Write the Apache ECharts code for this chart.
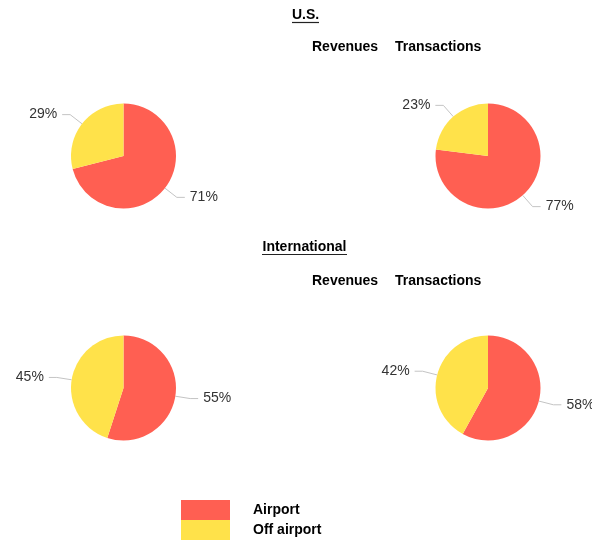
<!DOCTYPE html>
<html>
<head>
<meta charset="utf-8">
<script src="https://cdn.jsdelivr.net/npm/echarts@6/dist/echarts.min.js"></script>
<style>
  html, body { margin: 0; padding: 0; background: #fff; }
  #chart { width: 592px; height: 543px; }
</style>
</head>
<body>
<div id="chart"></div>
<script>
  // data
  const categories = ['Airport', 'Off airport'];
  const usRevenues = [71, 29];
  const usTransactions = [77, 23];
  const intlRevenues = [55, 45];
  const intlTransactions = [58, 42];

  const colors = ['#ff5f52', '#ffe24a'];
  const font = '"Liberation Sans", Arial, sans-serif';

  let chart = echarts.init(document.getElementById('chart'));

  function toData(values) {
    return values.map((v, i) => ({ name: categories[i], value: v }));
  }

  function pieSeries(values, center) {
    return {
      type: 'pie',
      center: center,
      radius: 52.5,
      startAngle: 90,
      clockwise: true,
      avoidLabelOverlap: false,
      animation: false,
      label: {
        show: true,
        formatter: '{c}%',
        color: '#333',
        fontSize: 14,
        fontFamily: font,
        distanceToLabelLine: 5
      },
      labelLine: {
        show: true,
        length: 15,
        length2: 8,
        smooth: false,
        lineStyle: { color: '#c4c4c4', width: 1 }
      },
      emphasis: { disabled: true },
      data: toData(values)
    };
  }

  // titles with underline
  function heading(text, cx, cy, width) {
    return [
      {
        type: 'text',
        x: cx, y: cy,
        style: {
          text: text, fill: '#000', font: 'bold 14px ' + font,
          textAlign: 'center', textVerticalAlign: 'middle'
        }
      },
      {
        type: 'line',
        shape: { x1: cx - width / 2, y1: cy + 7.5, x2: cx + width / 2, y2: cy + 7.5 },
        style: { stroke: '#222', lineWidth: 1.2 }
      }
    ];
  }

  function subText(text, x, y) {
    return {
      type: 'text',
      x: x, y: y,
      style: {
        text: text, fill: '#000', font: 'bold 14px ' + font,
        textAlign: 'left', textVerticalAlign: 'middle'
      }
    };
  }

  let option = {
    color: colors,
    backgroundColor: '#fff',
    legend: {
      orient: 'vertical',
      left: 181,
      top: 500,
      height: 60,
      padding: 0,
      itemWidth: 49,
      itemHeight: 20,
      itemGap: 0,
      icon: 'rect',
      selectedMode: false,
      textStyle: {
        color: '#000',
        fontSize: 14,
        fontWeight: 'bold',
        fontFamily: font,
        padding: [0, 0, 0, 18]
      },
      data: categories
    },
    graphic: [
      ...heading('U.S.', 305.5, 15, 27),
      subText('Revenues', 312, 47),
      subText('Transactions', 395, 47),
      ...heading('International', 304.5, 247, 85),
      subText('Revenues', 312, 281),
      subText('Transactions', 395, 281)
    ],
    series: [
      pieSeries(usRevenues, [123.5, 156]),
      pieSeries(usTransactions, [488, 156]),
      pieSeries(intlRevenues, [123.5, 388]),
      pieSeries(intlTransactions, [488, 388])
    ]
  };

  chart.setOption(option);
</script>
</body>
</html>
